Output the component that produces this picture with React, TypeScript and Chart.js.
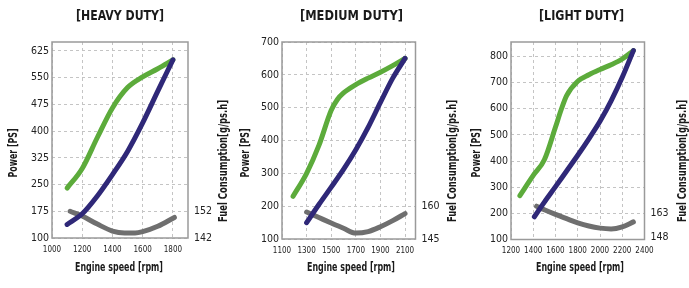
import React, { useEffect, useRef } from "react";
import { Chart, registerables } from "chart.js";
Chart.register(...registerables);

const FONT = "'DejaVu Sans Condensed', 'Liberation Sans Narrow', 'Arial Narrow', sans-serif";

const GREEN = "#5cab3b";
const BLUE = "#2f2878";
const GRAY = "#6f6f6f";

// ---------- HEAVY DUTY ----------
const heavyTitle = "[HEAVY DUTY]";
const heavyXTicks = [1000, 1200, 1400, 1600, 1800];
const heavyYTicks = [100, 175, 250, 325, 400, 475, 550, 625];
const heavyY1Ticks = [142, 152];
const heavyGreenRpm = [1100, 1200, 1300, 1400, 1500, 1600, 1700, 1800];
const heavyGreenPS = [240, 295, 382, 465, 522, 552, 575, 600];
const heavyBlueRpm = [1100, 1200, 1300, 1400, 1500, 1600, 1700, 1800];
const heavyBluePS = [138, 168, 218, 278, 343, 423, 512, 600];
const heavyGrayRpm = [1120, 1200, 1300, 1400, 1480, 1550, 1600, 1700, 1810];
const heavyGrayFuel = [152, 150.2, 147.2, 144.6, 143.9, 143.9, 144.4, 146.4, 149.7];

// ---------- MEDIUM DUTY ----------
const mediumTitle = "[MEDIUM DUTY]";
const mediumXTicks = [1100, 1300, 1500, 1700, 1900, 2100];
const mediumYTicks = [100, 200, 300, 400, 500, 600, 700];
const mediumY1Ticks = [145, 160];
const mediumGreenRpm = [1190, 1300, 1400, 1500, 1550, 1600, 1700, 1800, 1900, 2000, 2100];
const mediumGreenPS = [230, 300, 385, 492, 525, 545, 570, 590, 608, 628, 650];
const mediumBlueRpm = [1300, 1400, 1500, 1600, 1700, 1800, 1900, 2000, 2100];
const mediumBluePS = [150, 205, 258, 312, 372, 440, 516, 590, 650];
const mediumGrayRpm = [1300, 1400, 1500, 1600, 1700, 1800, 1900, 2000, 2100];
const mediumGrayFuel = [157.3, 154.8, 152.3, 149.9, 147.7, 148.4, 150.6, 153.4, 156.6];

// ---------- LIGHT DUTY ----------
const lightTitle = "[LIGHT DUTY]";
const lightXTicks = [1200, 1400, 1600, 1800, 2000, 2200, 2400];
const lightYTicks = [100, 200, 300, 400, 500, 600, 700, 800];
const lightY1Ticks = [148, 163];
const lightGreenRpm = [1280, 1400, 1500, 1600, 1650, 1700, 1800, 1900, 2000, 2100, 2200, 2300];
const lightGreenPS = [268, 345, 405, 530, 595, 650, 705, 730, 750, 768, 790, 822];
const lightBlueRpm = [1410, 1500, 1600, 1700, 1800, 1900, 2000, 2100, 2200, 2300];
const lightBluePS = [187, 243, 302, 362, 422, 485, 552, 630, 720, 822];
const lightGrayRpm = [1430, 1500, 1600, 1700, 1800, 1900, 2000, 2100, 2200, 2300];
const lightGrayFuel = [167.4, 165.2, 162.3, 159.6, 157, 155, 153.7, 153.2, 154.5, 157.6];

const X_TITLE = "Engine speed [rpm]";
const Y_TITLE = "Power [PS]";
const Y1_TITLE = "Fuel Consumption[g/ps.h]";

const pts = (xs: number[], ys: number[]) => xs.map((x, i) => ({ x, y: ys[i] }));

function fitText(ctx: CanvasRenderingContext2D, text: string, x: number, y: number, font: string, width: number, rotate: boolean) {
  ctx.save();
  ctx.font = font;
  ctx.textAlign = "center";
  ctx.textBaseline = "middle";
  const w = ctx.measureText(text).width || 1;
  ctx.translate(x, y);
  if (rotate) ctx.rotate(-Math.PI / 2);
  ctx.scale(width / w, 1);
  ctx.fillText(text, 0, 0);
  ctx.restore();
}

type PanelProps = {
  title: string; titleW: number;
  xMin: number; xMax: number; xTicks: number[];
  yMin: number; yMax: number; yTicks: number[];
  y1Min: number; y1Max: number; y1Ticks: number[];
  green: { x: number; y: number }[];
  blue: { x: number; y: number }[];
  gray: { x: number; y: number }[];
  canvasLeft: number; canvasWidth: number;
  areaLeft: number; areaRight: number; areaTop: number; areaBottom: number;
  titleX: number; yTitleX: number; y1TitleX: number; xTitleX: number;
};

function Panel(p: PanelProps) {
  const ref = useRef<HTMLCanvasElement>(null);
  useEffect(() => {
    const H = 288;
    const lineDs = (label: string, data: any[], color: string, axis: string) => ({
      label, data, borderColor: color, backgroundColor: color, borderWidth: 5,
      pointRadius: 0, pointHoverRadius: 0, fill: false, yAxisID: axis,
      borderCapStyle: "round", borderJoinStyle: "round", cubicInterpolationMode: "monotone",
    });
    const decor = {
      id: "decor",
      beforeDatasetsDraw(chart: any) {
        const a = chart.chartArea; const ctx = chart.ctx;
        ctx.save();
        ctx.strokeStyle = "#9a9a9a"; ctx.lineWidth = 1.5;
        ctx.strokeRect(a.left, a.top, a.right - a.left, a.bottom - a.top);
        ctx.restore();
      },
      afterDraw(chart: any) {
        const ctx = chart.ctx as CanvasRenderingContext2D;
        ctx.save();
        ctx.fillStyle = "#1a1a1a";
        fitText(ctx, p.title, p.titleX, 16, `bold 14.5px ${FONT}`, p.titleW, false);
        fitText(ctx, X_TITLE, p.xTitleX, 268, `bold 11.5px ${FONT}`, 88, false);
        fitText(ctx, Y_TITLE, p.yTitleX, 153, `bold 11.5px ${FONT}`, 49, true);
        fitText(ctx, Y1_TITLE, p.y1TitleX, 161, `bold 12px ${FONT}`, 122, true);
        ctx.restore();
      },
    };
    const fmt = (v: any) => String(v);
    const chart = new Chart(ref.current!, {
      type: "line",
      data: {
        datasets: [
          lineDs("Power (max)", p.blue, BLUE, "y"),
          lineDs("Power", p.green, GREEN, "y"),
          lineDs("Fuel", p.gray, GRAY, "y1"),
        ] as any,
      },
      options: {
        responsive: false, animation: false, maintainAspectRatio: false,
        layout: { padding: { top: p.areaTop, left: 0, right: 0, bottom: 0 } },
        plugins: { legend: { display: false }, tooltip: { enabled: false }, title: { display: false } },
        scales: {
          x: {
            type: "linear", min: p.xMin, max: p.xMax,
            afterBuildTicks: (s: any) => { s.ticks = p.xTicks.map((v) => ({ value: v })); },
            afterFit: (s: any) => { s.height = H - p.areaBottom; },
            grid: { color: "#c4c4c4", lineWidth: 1, drawTicks: false },
            border: { display: false, dash: [3, 3] },
            ticks: { autoSkip: false, maxRotation: 0, padding: 7, color: "#222", callback: fmt, font: { family: FONT, size: 8 } },
          },
          y: {
            type: "linear", position: "left", min: p.yMin, max: p.yMax,
            afterBuildTicks: (s: any) => { s.ticks = p.yTicks.map((v) => ({ value: v })); },
            afterFit: (s: any) => { s.width = p.areaLeft; },
            grid: { color: "#c4c4c4", lineWidth: 1, drawTicks: false },
            border: { display: false, dash: [3, 3] },
            ticks: { padding: 3, color: "#222", callback: fmt, font: { family: FONT, size: 10.5 } },
          },
          y1: {
            type: "linear", position: "right", min: p.y1Min, max: p.y1Max,
            afterBuildTicks: (s: any) => { s.ticks = p.y1Ticks.map((v) => ({ value: v })); },
            afterFit: (s: any) => { s.width = p.canvasWidth - p.areaRight; },
            grid: { display: false, drawTicks: false },
            border: { display: false },
            ticks: { padding: 6, color: "#222", callback: fmt, font: { family: FONT, size: 10.5 } },
          },
        },
      } as any,
      plugins: [decor],
    });
    return () => chart.destroy();
  }, []);
  return (
    <canvas
      ref={ref}
      width={p.canvasWidth}
      height={288}
      style={{ position: "absolute", left: p.canvasLeft, top: 0, width: p.canvasWidth, height: 288 }}
    />
  );
}

export default function App() {
  return (
    <div style={{ position: "absolute", left: 0, top: 0, width: 689, height: 288, background: "#fff", overflow: "hidden" }}>
      <Panel
        title={heavyTitle} titleW={88}
        xMin={1000} xMax={1900} xTicks={heavyXTicks}
        yMin={100} yMax={650} yTicks={heavyYTicks}
        y1Min={142} y1Max={215.33} y1Ticks={heavyY1Ticks}
        green={pts(heavyGreenRpm, heavyGreenPS)}
        blue={pts(heavyBlueRpm, heavyBluePS)}
        gray={pts(heavyGrayRpm, heavyGrayFuel)}
        canvasLeft={0} canvasWidth={230}
        areaLeft={52} areaRight={188} areaTop={42} areaBottom={238}
        titleX={120} yTitleX={14} y1TitleX={224} xTitleX={119}
      />
      <Panel
        title={mediumTitle} titleW={103}
        xMin={1100} xMax={2185} xTicks={mediumXTicks}
        yMin={100} yMax={700} yTicks={mediumYTicks}
        y1Min={145} y1Max={235} y1Ticks={mediumY1Ticks}
        green={pts(mediumGreenRpm, mediumGreenPS)}
        blue={pts(mediumBlueRpm, mediumBluePS)}
        gray={pts(mediumGrayRpm, mediumGrayFuel)}
        canvasLeft={230} canvasWidth={230}
        areaLeft={52} areaRight={185.5} areaTop={42} areaBottom={239}
        titleX={121.5} yTitleX={16.5} y1TitleX={223.3} xTitleX={121}
      />
      <Panel
        title={lightTitle} titleW={85}
        xMin={1200} xMax={2400} xTicks={lightXTicks}
        yMin={100} yMax={855} yTicks={lightYTicks}
        y1Min={146.6} y1Max={270} y1Ticks={lightY1Ticks}
        green={pts(lightGreenRpm, lightGreenPS)}
        blue={pts(lightBlueRpm, lightBluePS)}
        gray={pts(lightGrayRpm, lightGrayFuel)}
        canvasLeft={460} canvasWidth={229}
        areaLeft={51} areaRight={184.5} areaTop={42} areaBottom={239.5}
        titleX={121.5} yTitleX={17.3} y1TitleX={223.3} xTitleX={120}
      />
    </div>
  );
}
